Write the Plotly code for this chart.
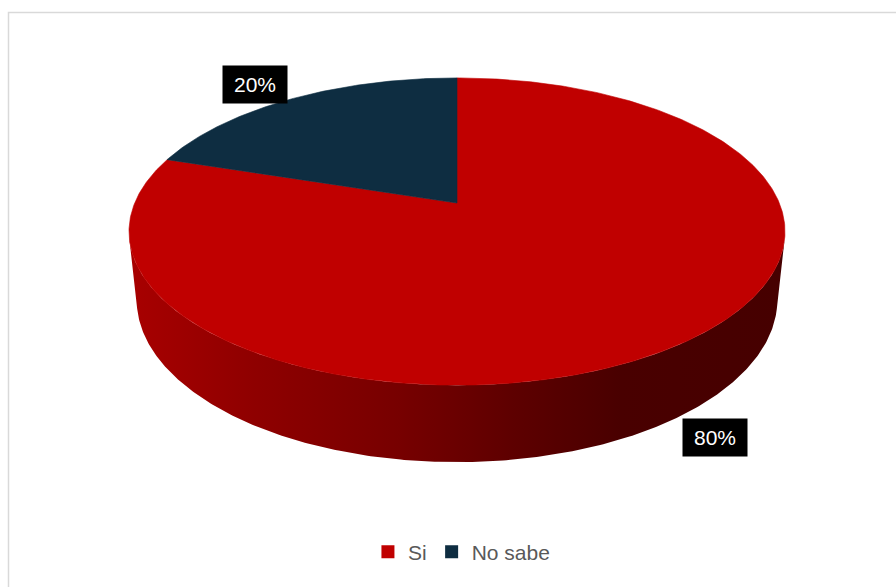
import numpy as np
import plotly.graph_objects as go

# ---- data ----
labels = ["Si", "No sabe"]
values = [80, 20]
colors = ["#C00000", "#0E2D41"]

# ---- figure / camera setup (pixel space) ----
FIG_W, FIG_H = 896, 587
CX, CY = 457, 203            # projected centre of the top face
TILT = np.radians(27.4)      # camera elevation
DIST = 4.78                  # camera distance (in pie radii)
SCALE = 1540.6               # projection scale
DEPTH = 0.24                 # pie thickness (in pie radii)
LABEL_SHIFT = [(41, 18), (-37, -14)]   # label offset from the rim, px
SIDE_SHADE = [(0.0, 0.88), (0.18, 0.75), (0.41, 0.62),
              (0.59, 0.485), (0.75, 0.385), (1.0, 0.365)]

cos_t, sin_t = np.cos(TILT), np.sin(TILT)


def project(X, Y, Z):
    """Perspective projection of pie-space points (Y towards viewer, Z up)."""
    X, Y, Z = np.asarray(X, float), np.asarray(Y, float), np.asarray(Z, float)
    d = Y * cos_t + Z * sin_t
    v = Z * cos_t - Y * sin_t
    k = SCALE / (DIST - d)
    return CX + X * k, CY - v * k


def rim(phi_deg, z=0.0, r=1.0):
    """Rim points; phi measured clockwise from 12 o'clock."""
    p = np.radians(phi_deg)
    X, Y = r * np.sin(p), -r * np.cos(p)
    return project(X, Y, np.full_like(X, z))


def shade(hex_col, f):
    h = hex_col.lstrip("#")
    r, g, b = (int(h[i:i + 2], 16) for i in (0, 2, 4))
    return "rgb(%d,%d,%d)" % (r * f, g * f, b * f)


total = sum(values)
bounds = np.concatenate([[0], np.cumsum(values)]) / total * 360.0

# horizontal extent of the cylinder for the side gradient
full_x, _ = rim(np.linspace(0, 360, 721))
x_lo, x_hi = full_x.min(), full_x.max()

# side wall is visible where it faces the camera
c0 = 1.0 / (DIST * cos_t)
face_lo = np.degrees(np.arccos(-c0))
face_hi = 360.0 - face_lo

fig = go.Figure()

# side walls
for lab, col, a0, a1 in zip(labels, colors, bounds[:-1], bounds[1:]):
    s0, s1 = max(a0, face_lo), min(a1, face_hi)
    if s1 <= s0:
        continue
    phi = np.linspace(s0, s1, 300)
    tx, ty = rim(phi, 0.0)
    bx, by = rim(phi[::-1], -DEPTH)
    fig.add_trace(go.Scatter(
        x=np.concatenate([tx, bx]), y=np.concatenate([ty, by]),
        mode="lines", fill="toself", line=dict(width=0),
        fillgradient=dict(type="horizontal", start=x_lo, stop=x_hi,
                          colorscale=[[p, shade(col, f)] for p, f in SIDE_SHADE]),
        showlegend=False, hoverinfo="skip"))

# top faces
for lab, col, a0, a1 in zip(labels, colors, bounds[:-1], bounds[1:]):
    phi = np.linspace(a0, a1, max(int(a1 - a0) * 2, 10))
    ax_, ay_ = rim(phi, 0.0)
    fig.add_trace(go.Scatter(
        x=np.concatenate([[CX], ax_, [CX]]), y=np.concatenate([[CY], ay_, [CY]]),
        mode="lines", fill="toself", fillcolor=col,
        line=dict(width=0.6, color=col),
        showlegend=False, hoverinfo="skip"))

# legend entries
for lab, col in zip(labels, colors):
    fig.add_trace(go.Scatter(
        x=[None], y=[None], mode="markers", name=lab,
        marker=dict(symbol="square", size=13, color=col)))

# percentage labels
for (lab, v, a0, a1), (dx, dy) in zip(zip(labels, values, bounds[:-1], bounds[1:]), LABEL_SHIFT):
    mid = (a0 + a1) / 2.0
    front = -np.cos(np.radians(mid)) > 0
    lx, ly = rim(np.array([mid]), -DEPTH if front else 0.0)
    fig.add_annotation(
        x=float(lx[0]) + dx, y=float(ly[0]) + dy,
        text="%d%%" % round(100.0 * v / total), showarrow=False,
        font=dict(family="Liberation Sans, Arial, sans-serif", size=21, color="white"),
        bgcolor="black", borderpad=7, width=50, height=23,
        xanchor="center", yanchor="middle")

# chart area border
fig.add_shape(type="rect", x0=8.5, y0=12.5, x1=FIG_W + 20, y1=FIG_H + 20,
              line=dict(color="#D9D9D9", width=1.5), layer="below")

fig.update_layout(
    width=FIG_W, height=FIG_H, autosize=False,
    margin=dict(l=0, r=0, t=0, b=0),
    paper_bgcolor="white", plot_bgcolor="white",
    xaxis=dict(range=[0, FIG_W], visible=False, fixedrange=True),
    yaxis=dict(range=[FIG_H, 0], visible=False, fixedrange=True),
    showlegend=True,
    legend=dict(orientation="h", x=0.515, xanchor="center",
                y=1 - 552 / FIG_H, yanchor="middle",
                font=dict(family="Liberation Sans, Arial, sans-serif", size=21, color="#595959"),
                bgcolor="rgba(0,0,0,0)", itemclick=False, itemdoubleclick=False),
    hovermode=False,
)

fig.write_html("out.html")
